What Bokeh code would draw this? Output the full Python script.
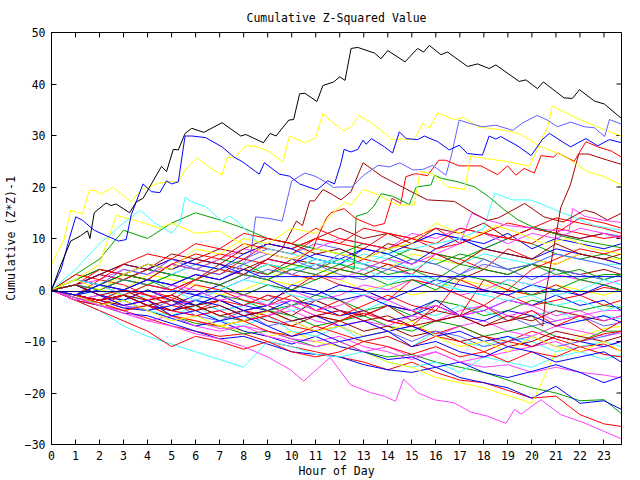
from math import pi
from bokeh.plotting import figure
from bokeh.models import FixedTicker, Range1d
from bokeh.embed import file_html
from bokeh.resources import INLINE

TITLE = "Cumulative Z-Squared Value"
X_LABEL = "Hour of Day"
Y_LABEL = "Cumulative (Z*Z)-1"
X_TICKS = list(range(0, 24))
Y_TICKS = [-30, -20, -10, 0, 10, 20, 30, 40, 50]
X_END = 23.73

# shared hourly sample grid for the background walks
HOURS = list(range(0, 24)) + [23.73]

# ---- prominent walks (own sample hours) ----
black_h = [0, 0.4, 0.8, 1.2, 1.5, 1.6, 1.78, 2.27, 2.48, 2.69, 3.25, 3.53, 3.81, 4.16, 4.58, 4.79, 5.07, 5.28, 5.56, 5.84,
           6.34, 7.1, 7.88, 8.09, 8.82, 9.1, 9.35, 9.88, 10.08, 10.33, 10.55, 11.05, 11.3, 11.75, 12.0, 12.22, 12.47, 12.75,
           13.45, 13.72, 14.0, 14.72, 15.24, 15.49, 15.73, 16.21, 16.49, 17.32, 17.74, 18.22, 18.5, 19.47, 19.75, 20.23,
           20.48, 21.34, 21.69, 21.98, 22.6, 23.02, 23.73]
black_v = [0, 5, 9.5, 10.5, 11.5, 10, 15, 16.9, 16.4, 16.7, 15, 17.1, 17.8, 20.6, 24, 23, 27.3, 27.2, 30.4, 31.4,
           30.6, 32.5, 29.9, 30.2, 28.6, 30.4, 29.9, 33, 33.1, 38.1, 38.2, 36.6, 39.7, 40.4, 41.4, 40.7, 46.9, 47.1,
           46, 44.9, 46.5, 44.3, 46.9, 46.2, 47.5, 45.7, 46.2, 43.4, 43.9, 43, 43.7, 40.5, 40.8, 39.1,
           40.4, 37.3, 37.2, 38.9, 36.7, 36.1, 33.3]

blue_hi_h = [0, 0.4, 0.73, 1.01, 1.3, 1.78, 2.3, 2.8, 3.11, 3.32, 3.81, 4.16, 4.51, 4.79, 5.0, 5.28, 5.56, 5.84, 6.41, 7.1,
             7.6, 7.95, 8.5, 8.65, 8.86, 9.49, 9.91, 10.33, 11.0, 11.12, 11.5, 11.78, 12.05, 12.18, 12.47, 12.75, 12.97,
             13.1, 13.32, 13.86, 14.2, 14.48, 14.77, 15.25, 15.52, 16.08, 16.56, 16.97, 17.32, 17.94, 18.22, 18.5, 18.7,
             19.4, 19.97, 20.43, 20.73, 21.33, 21.61, 22.25, 22.74, 23.23, 23.73]
blue_hi_v = [0, 4, 9.8, 14.2, 13.5, 11.6, 10.5, 9.5, 9.8, 14.6, 20.6, 19.1, 18.9, 21.2, 20.6, 21, 29.9, 29.9, 29.6, 27.8,
             25.8, 24.9, 23, 22.5, 24.7, 22.5, 22.1, 20.6, 19.5, 19.7, 21.2, 20.6, 24.6, 27.3, 26.8, 27.3, 29.1,
             28.3, 29.4, 27.8, 26.6, 30.7, 29.4, 29.2, 29.9, 28.8, 27.2, 28.1, 26.5, 26.2, 29.9, 29.3, 29.8,
             28, 26.1, 29.2, 30.4, 28.6, 27.8, 29.4, 28, 29.2, 28.6]

lblue_hi_h = [0, 1, 2, 3, 4, 5, 6, 7, 7.8, 8.3, 8.5, 9.05, 9.6, 10.0, 10.55, 10.97, 11.4, 11.75, 11.95, 12.5, 13.0, 13.6,
              14.08, 14.5, 15.05, 15.45, 15.87, 16.42, 16.63, 16.97, 17.45, 17.94, 18.5, 19.2, 19.6, 20.22, 20.64, 21.06,
              21.62, 22.18, 22.6, 23.03, 23.23, 23.73]
lblue_hi_v = [0, -1, 1, 0, 2, 1, 3, 2, 4, 7, 14.2, 13.9, 13.4, 21.2, 22.7, 22.1, 21, 19.9, 20, 20, 22.3, 24.2,
              23.9, 24.7, 23.3, 23.4, 24.2, 22.3, 25.8, 33, 32.3, 31.7, 32, 31, 32.4, 33.9, 33, 31.7,
              32.6, 31.7, 31.5, 29.8, 33.1, 32.2]

yellow_hi_h = [0, 0.52, 0.8, 1.29, 1.57, 1.76, 2.06, 2.55, 2.9, 3.32, 3.74, 4.44, 4.93, 5.28, 5.56, 6.06, 6.55, 7.1, 7.32,
               7.6, 8.09, 8.5, 9.07, 9.63, 9.91, 10.55, 11.0, 11.3, 11.63, 12.18, 12.47, 12.8, 13.3, 14.2, 14.6, 15.1,
               15.45, 15.75, 16.07, 16.77, 17.15, 17.75, 18.85, 19.48, 20.3, 21.35, 22.3, 23.0, 23.73]
yellow_hi_v = [5, 9.8, 15.5, 14.8, 19.3, 19.4, 18.6, 19.9, 18.7, 17.1, 19.5, 20.7, 21, 21, 23.3, 25.7, 23.9, 22.3, 25.8,
               25.6, 28, 27.9, 26.9, 24.9, 29.9, 28.6, 29.6, 34.3, 32.8, 30.9, 31.7, 33.9, 32.5, 29.2, 29.3, 29.2,
               32.3, 31.5, 34.4, 33.1, 33.5, 31.7, 31, 30.4, 28, 26, 23, 22, 20.4]

yellow_jump_h = [0, 1, 2, 3, 4, 5, 6, 7, 8, 9, 10, 11, 11.63, 12.2, 12.47, 12.97, 13.6, 14.4, 15.1, 15.35, 15.9, 16.5,
                 17.2, 17.45, 18.1, 18.9, 19.9, 20.65, 20.85, 21.8, 22.8, 23.73]
yellow_jump_v = [0, 2, 0, 3, 5, 4, 8, 7, 10, 9, 12, 11, 14.5, 17, 16.5, 19.5, 18.5, 16.5, 16.5, 23, 22.5, 20,
                 19.5, 26, 25.5, 25, 24, 31.7, 35.7, 33.5, 31.5, 29.9]

yellow_mid_h = [0, 1, 2, 2.7, 3.5, 4.5, 5, 6, 7, 7.5, 8, 9, 10, 11, 12, 13, 14, 15, 16, 16.5, 17.5, 18.5, 19.5, 20.5,
                21.5, 22.5, 23.73]
yellow_mid_v = [0, 2, 5, 14.5, 13.5, 12, 13, 11, 11.5, 10, 9, 7, 6, 8, 7, 6, 8, 9, 13, 12, 10, 12.5, 11, 9,
                10, 8, 7]

red_hi_h = [0, 1, 2, 3, 4, 5, 6, 7, 8, 9, 10, 10.9, 11.05, 11.45, 11.63, 12.18, 12.66, 13.43, 13.86, 14.18, 14.54, 14.75,
            15.15, 15.65, 16.13, 16.41, 16.97, 17.88, 18.57, 18.99, 19.33, 19.68, 20.1, 20.38, 20.9, 21.08, 21.76, 22.25,
            22.74, 23.3, 23.73]
red_hi_v = [0, -1, -2, -1, 1, 0, 2, 4, 3, 6, 5, 8, 10, 14, 15, 15.8, 13.9, 12.4, 12.9, 17.8, 16.8, 22,
            22.6, 22.2, 25.2, 25.2, 24.1, 24.1, 22.4, 24.1, 22.3, 23.6, 22.7, 26.1, 25.8, 26.6, 25, 28.8,
            27.8, 27, 25.8]

dred_hi_h = [0, 1, 2, 3, 4, 5, 6, 7, 8, 9, 9.6, 10.2, 10.45, 10.75, 10.95, 11.3, 11.63, 12.05, 12.47, 12.97, 13.75, 15.1,
             15.65, 16.77, 17.47, 18.15, 18.6, 19.0, 19.7, 20.5, 21.3, 22.2, 22.6, 23.15, 23.73]
dred_hi_v = [0, 1, -1, 0, 2, 1, 3, 2, 4, 6, 8, 13.4, 12.5, 17.3, 17.3, 19.5, 18.7, 17.5, 19.1, 24.7, 22.1, 18.8,
             17.5, 17.2, 15.2, 13.5, 14, 15, 16.8, 14.2, 13.2, 15.5, 15, 13.6, 14.9]

dred_jump_h = [0, 1, 2, 3, 4, 5, 6, 7, 8, 9, 10, 11, 12, 13, 14, 15, 16, 17, 18, 19, 20, 20.45, 20.6, 20.9, 21.2, 21.6,
               21.95, 22.35, 22.75, 23.15, 23.73]
dred_jump_v = [0, -1, -2, -1, -3, -2, -4, -3, -5, -4, -6, -5, -4, -6, -5, -7, -6, -5, -7, -6, -5, -7, 0, 8, 16, 20.4,
               26.4, 26.4, 25.8, 25.2, 24.4]

green_jump_h = [0, 1, 2, 3, 4, 5, 6, 7, 8, 9, 10, 11, 12, 12.6, 12.68, 13.15, 13.43, 13.72, 14.2, 14.9, 15.18, 15.8, 15.95,
                16.22, 16.92, 17.62, 18.18, 18.87, 19.43, 20.0, 20.55, 21.3, 22.2, 23.0, 23.73]
green_jump_v = [0, 1, 0, 2, 1, 3, 2, 1, 3, 2, 4, 3, 5, 4, 14.3, 15, 16.3, 18.7, 18.2, 16.6, 20, 20.4, 22.3,
                21.7, 21, 20, 18.2, 15.5, 13.6, 12.3, 11.6, 10.4, 9.5, 8.8, 8.2]

cyan_left_h = [0, 1, 2, 3, 3.7, 4.3, 5, 5.35, 5.56, 5.84, 6.41, 7.1, 7.39, 7.81, 8.4, 9, 10, 11, 12, 13, 14, 15, 16, 17,
               18, 19, 20, 21, 22, 23, 23.73]
cyan_left_v = [0, 4, 9, 13, 15.5, 13, 11, 13, 18, 17.1, 16.2, 13.4, 14.4, 13.1, 10, 8, 7, 6, 5, 4, 2, 3, 1, 0,
               -1, -2, -1, -3, -2, -4, -3]

cyan_right_h = [0, 1, 2, 3, 4, 5, 6, 7, 8, 9, 10, 11, 12, 13, 14, 15, 16, 17, 18, 18.45, 19.2, 19.9, 20.35, 21.0, 21.8,
                22.6, 23.73]
cyan_right_v = [0, 1, 0, 2, 1, 3, 2, 4, 3, 2, 4, 5, 6, 5, 7, 8, 9, 10, 12, 18.8, 17.5, 17.5, 16.8, 15.5, 14,
                12.5, 11.6]

magenta_hi_h = [0, 1, 2, 3, 4, 5, 6, 7, 8, 9, 10, 11, 12, 13, 14, 15, 16, 17, 17.5, 18.2, 19, 20, 21, 21.55, 21.7, 22.2,
                22.9, 23.73]
magenta_hi_v = [0, 1, 0, 2, 1, 0, 2, 1, 3, 2, 4, 3, 2, 4, 6, 5, 7, 9, 14.9, 13.5, 12.5, 12, 11.5, 11.6, 15.8, 14.3,
                13.6, 13.1]

magenta_lo_h = [0, 1, 2, 3, 4, 5, 6, 7, 8, 9, 9.95, 10.5, 10.9, 11.6, 12.45, 13.27, 13.9, 14.32, 14.66, 15.23, 15.92,
                16.75, 17.45, 18.15, 18.92, 19.27, 19.55, 20.37, 21.2, 22.17, 23.73]
magenta_lo_v = [0, -1.5, -3, -4.5, -6, -7, -8.5, -9.5, -11, -13, -15.5, -17.7, -16, -13.1, -18.4, -19.9, -20.7, -21.6,
                -17.3, -19.9, -21.3, -21.9, -23.7, -24.5, -25.9, -23.2, -24.1, -21.3, -24.2, -25.8, -28.9]

blue_flat_h = [0, 1, 2, 3, 4, 5, 6, 7, 8, 8.7, 23.73]
blue_flat_v = [0, -1, 1, 0, 2, 1, 3, 2, 4, 2.6, 2.6]
navy_flat_h = [0, 23.73]
navy_flat_v = [-0.3, -0.3]

# ---- background walks on the hourly grid ----
red_a = [0, -1.5, -3, -4, -5.5, -7, -8, -9, -8.5, -10, -11, -12, -13, -14, -15.5, -14, -16, -17.5, -18, -19.5, -21, -20.6, -24.2, -26, -26.5]
red_b = [0, 1, -1, -2, 0, -1.5, -3, -2, -4, -5, -3, -5, -6, -4.5, -6, -7, -8.5, -7, -9, -10, -8, -9.5, -11, -10.5, -11.9]
red_c = [0, 2, 1, 3, 2, 5, 4, 3, 6, 5, 3, 2, 4, 6, 5, 3, 7, 6, 4, 8, 6, 5, 7, 6, 5]
red_d = [0, -1, 1, 0, -2, -1, 2, 1, -1, -2, 0, 3, 1, 0, -2, 2, 1, -1, -3, 0, -1, 1, -1, 0.5, 0]
red_e = [0, -1, -2, 0, -1, -3, -4, -2, -3, -1, -2, -4, -5, -3, -1, -3, -4, 2, 0, -1, -3, -2, -1, -3, -2]
red_f = [0, 1, 3, 2, 4, 6, 5, 7, 6, 9, 8, 10, 9, 8, 11, 10, 12, 9, 11, 10, 9, 12, 11, 10, 10.5]
red_g = [0, -1, -2.5, -4, -3, -5, -6, -7, -6, -8, -9, -7, -8.5, -10, -9, -11, -9, -10, -12, -10, -11, -9, -10, -8.5, -8]
red_h = [0, -2, -3, -1, -3, -4, -5, -4, -6, -5, -7, -8, -6, -4, -6, -7, -3, -5, 2, 0, 4, 6, 8, 7, 8]
red_i = [0, -2, -4, -6, -8, -11, -9, -10, -11.5, -10, -12, -13, -12, -10, -11, -12.5, -11, -13, -12, -14, -12, -13, -11, -12.5, -13]
red_j = [0, 1, 4, 3, 2, 5, 7, 6, 9, 8, 7, 10, 9, 12, 11, 10, 8, 9, 11, 10, 12, 14, 13, 12, 11]
red_k = [0, -1, 2, 1, -1, -2, 1, 0, -2, -3, -1, -4, -2, -5, -3, -4, -6, -5, -3, -6, -4, -7, -5, -8, -6]
red_l = [0, 3, 2, 5, 7, 6, 9, 8, 11, 10, 9, 12, 10, 9, 8, 10, 9, 12, 11, 13, 12, 11, 14, 13, 12]

dred_a = [0, 1, 0, 2, 4, 3, 2, 5, 4, 3, 6, 5, 4, 3, 5, 4, 3, 2, 4, 3, 5, 4, 3, 4, 3]
dred_b = [0, -1, 1, -1, -2, -1, -3, -2, -4, -3, -5, -2, -4, -5, -3, -6, -4, -5, -7, -5, -6, -4, -5, -6, -5]
dred_c = [0, 2, 4, 3, 5, 4, 6, 8, 7, 9, 8, 10, 12, 10, 11, 9, 12, 11, 13, 10, 12, 11, 10, 11, 10]
dred_d = [0, -1, -2, -3, -2, -4, -3, -5, -4, -6, -7, -5, -6, -8, -7, -9, -8, -10, -9, -11, -10, -8, -9, -10, -9]
dred_e = [0, 1, 3, 5, 4, 7, 6, 5, 8, 10, 9, 7, 8, 6, 9, 8, 7, 5, 8, 7, 6, 9, 7, 6, 7]

blue_a = [0, -2, -3, -4.5, -5, -6.5, -8, -9.5, -9, -10.5, -12, -12.5, -13, -14.5, -15.5, -16, -15, -17, -18, -19, -21, -18.7, -22, -21.5, -23.2]
blue_b = [0, -1, -2, -3.5, -4, -5.5, -7, -6, -8, -9, -10.5, -9, -11, -12, -13.5, -13, -15, -14, -16, -17, -15.8, -14.5, -16, -18, -16.8]
blue_c = [0, 1, -1, -2, 0, -2, -3, -1, -3, -4, -2, -3, -5, -4, -6, -5, -3, -5, -6, -4, -5, -7, -6, -5, -6.3]
blue_d = [0, 2, 1, 3, 5, 4, 6, 5, 3, 6, 5, 7, 6, 8, 7, 5, 8, 10, 9, 11, 8, 10, 9, 8, 9]
blue_e = [0, -1, 0, 2, 1, 0, -1, 1, 3, 2, 0, -1, 1, 0, -2, 0, 2, 1, 0, -1, 1, 0, -1, 1, 0]
blue_f = [0, -1, -2, -1, -3, -4, -2, -3, -5, -4, -6, -5, -7, -6, -8, -7, -9, -8, -10, -9, -11, -9, -10, -11, -10]
blue_g = [0, 1, 3, 5, 4, 6, 5, 4, 7, 9, 8, 6, 5, 8, 7, 9, 11, 10, 8, 7, 6, 8, 7, 6, 5]
blue_h = [0, -1, -3, -2, -4, -3, -1, -2, -4, -3, 1, 0, -2, -1, -3, -4, -2, -5, -4, -2, -3, -1, -3, -2, -4]
blue_i = [0, 1, -1, -3, -2, -5, -4, -6, -5, -7, -9, -8, -10, -9, -8, -11, -10, -12, -13, -11, -12, -14, -13, -12, -14]

lblue_a = [0, -1, -2, 0, -1, -3, -2, -4, -3, -1, -3, -2, -4, -5, -3, -4, -6, -5, -3, -5, -7, -6, -5, -7, -6.3]
lblue_b = [0, 1, 3, 2, 4, 3, 5, 4, 6, 8, 7, 9, 8, 6, 8, 9, 11, 10, 8, 10, 12, 11, 10, 11, 10.4]
lblue_c = [0, -1, 1, 0, 2, 1, -1, 0, 2, 4, 3, 5, 3, 2, 4, 3, 1, 3, 5, 4, 2, 4, 3, 2, 3]
lblue_d = [0, -2, -1, -3, -4, -2, -5, -6, -4, -7, -6, -8, -7, -9, -8, -10, -8, -9, -11, -10, -9, -11, -10, -9, -8]
lblue_e = [0, 2, 1, 4, 3, 6, 4, 3, 5, 7, 6, 4, 7, 5, 4, 6, 5, 3, 6, 4, 5, 7, 6, 5, 4]

green_a = [0, -1.5, -2.5, -4, -3, -5, -6.5, -7, -8.5, -8, -9.5, -11, -10, -12, -13, -12.5, -14, -15, -16, -17.5, -19, -20, -21.5, -21.3, -24]
green_b = [0, -1, 1, 0, -2, -1, -3, -1, -2, -4, -3, -1, -2, -4, -3, -5, -2, -3, -5, -4, -2, -3, -4, -3, -3.5]
green_c = [0, 1, 0, 2, 4, 3, 2, 4, 3, 5, 4, 6, 5, 4, 6, 8, 7, 6, 8, 10, 9, 7, 6, 7, 6]
green_d = [0, -1, -2, -1, -3, -4, -3, -5, -6, -4, -5, -7, -6, -5, -7, -8, -6, -7, -9, -8, -7, -9, -10, -8, -8]
green_e = [0, 2, 4, 3, 2, 5, 4, 6, 5, 3, 5, 4, 6, 5, 3, 4, 2, 5, 4, 3, 5, 4, 2, 3, 3]
green_f = [0, 3, 6, 11.6, 10, 13, 15, 13.6, 12, 10, 9, 8, 7, 9, 8, 6, 5, 7, 6, 4, 5, 3, 4, 2, 3]
green_g = [0, -1, 1, 3, 2, 0, 2, 1, -1, 1, 0, 2, 4, 3, 1, 2, 0, 3, 2, 1, -1, 0, 2, 1, 0]

cyan_a = [0, -2, -4, -7, -9, -10.5, -12, -13.5, -15, -10, -11, -12.5, -13, -12, -14, -15, -14, -16, -13, -14, -15, -13, -12, -13.5, -12.5]
cyan_b = [0, -1, 0, -2, -1, -3, -2, -4, -3, -2, -4, -3, -5, -4, -2, -4, -5, -3, -4, -6, -5, -4, -6, -5, -5.6]
cyan_c = [0, 1, 3, 2, 1, 3, 5, 4, 3, 5, 4, 6, 5, 7, 6, 4, 6, 5, 7, 6, 5, 7, 6, 5, 5]
cyan_d = [0, -1, -3, -2, -4, -5, -3, -6, -7, -5, -8, -9, -7, -10, -9, -11, -8, -10, -11, -9, -10, -12, -11, -10, -11]
cyan_e = [0, 2, 1, -1, 1, 0, -2, 0, 2, 1, -1, -2, 0, -1, 1, 3, 2, 0, -1, 2, 1, -1, 0, 2, 1]

magenta_a = [0, -1, -2, -3.5, -3, -5, -6, -7.5, -7, -8, -9.5, -10, -9, -11, -12, -13.5, -12, -14, -15, -14.5, -16, -15, -16, -16.5, -17.1]
magenta_b = [0, -1, -2, -1, -3, -4, -3, -5, -6, -5, -4, -6, -7, -6, -8, -7, -9, -7, -6, -8, -9, -7, -8, -9, -8.3]
magenta_c = [0, -1, 1, 0, -1, -3, -2, 0, -1, 1, 0, -2, -1, 1, 0, 2, 1, -1, 0, 2, 1, 3, 2, 1, 2]
magenta_d = [0, -1, -2, -3, -2, -4, -5, -4, -6, -5, -3, -5, -4, -6, -7, -5, -6, -4, -3, -5, -4, -6, -5, -4, -4]
magenta_e = [0, -1, -3, -4, -6, -5, -7, -8, -7, -9, -10, -11, -10, -12, -11, -13, -12, -14, -13, -12, -11, -10, -12, -11, -10]
magenta_f = [0, 1, 2, 4, 3, 5, 4, 6, 8, 7, 6, 8, 10, 9, 8, 11, 10, 12, 11, 9, 11, 10, 12, 11, 10]
magenta_g = [0, -2, -1, -3, -2, 1, 0, -2, -1, -3, -2, -4, -3, -1, -2, -4, -3, -5, -4, -2, -3, -5, -4, -6, -5]

yellow_a = [0, -1, -2.5, -4, -3, -5, -6, -7, -8, -9, -8, -10, -11, -12, -14, -15, -17, -18, -19, -20.5, -22, -12, -9, -7.5, -7]
yellow_b = [0, 2, 1, 0, 3, 2, 1, -1, 0, 2, 1, 3, 2, 0, 1, -1, 0, 2, 1, 0, -1, 1, 0, -1, 0]
yellow_c = [0, 1, 0, -1, 1, 3, 2, 4, 3, 2, 5, 4, 3, 2, 4, 7, 6, 5, 8, 7, 6, 5, 7, 6, 6]
yellow_d = [0, -1, -3, -2, -4, -6, -5, -7, -6, -4, -6, -8, -7, -9, -8, -6, -9, -11, -10, -12, -9, -11, -12, -10, -12]

RED, DRED, GREEN, BLUE, LBLUE = "#ff0000", "#a00000", "#00a000", "#0000ff", "#6060ff"
CYAN, MAGENTA, YELLOW, BLACK, NAVY = "#40ffff", "#ff40ff", "#ffff00", "#000000", "#000090"

background = [
    (red_a, RED), (green_a, GREEN), (blue_a, BLUE), (magenta_a, MAGENTA), (cyan_a, CYAN), (yellow_a, YELLOW),
    (dred_a, DRED), (lblue_a, LBLUE), (red_b, RED), (green_b, GREEN), (blue_b, BLUE), (magenta_b, MAGENTA),
    (cyan_b, CYAN), (yellow_b, YELLOW), (dred_b, DRED), (lblue_b, LBLUE), (red_c, RED), (green_c, GREEN),
    (blue_c, BLUE), (magenta_c, MAGENTA), (cyan_c, CYAN), (yellow_c, YELLOW), (dred_c, DRED), (lblue_c, LBLUE),
    (red_d, RED), (green_d, GREEN), (blue_d, BLUE), (magenta_d, MAGENTA), (cyan_d, CYAN), (dred_d, DRED),
    (lblue_d, LBLUE), (red_e, RED), (green_e, GREEN), (blue_e, BLUE), (magenta_e, MAGENTA), (red_f, RED),
    (green_f, GREEN), (blue_f, BLUE), (magenta_f, MAGENTA), (red_g, RED), (blue_g, BLUE), (red_h, RED),
    (red_i, RED), (red_j, RED), (red_k, RED), (dred_e, DRED), (blue_h, BLUE), (lblue_e, LBLUE), (green_g, GREEN),
    (cyan_e, CYAN), (magenta_g, MAGENTA), (yellow_d, YELLOW), (red_l, RED), (blue_i, BLUE),
]
prominent = [
    (magenta_lo_h, magenta_lo_v, MAGENTA), (cyan_left_h, cyan_left_v, CYAN), (cyan_right_h, cyan_right_v, CYAN),
    (magenta_hi_h, magenta_hi_v, MAGENTA), (yellow_mid_h, yellow_mid_v, YELLOW), (green_jump_h, green_jump_v, GREEN),
    (dred_jump_h, dred_jump_v, DRED), (dred_hi_h, dred_hi_v, DRED), (red_hi_h, red_hi_v, RED),
    (yellow_jump_h, yellow_jump_v, YELLOW), (yellow_hi_h, yellow_hi_v, YELLOW), (lblue_hi_h, lblue_hi_v, LBLUE),
    (blue_hi_h, blue_hi_v, BLUE), (black_h, black_v, BLACK),
    (blue_flat_h, blue_flat_v, BLUE), (navy_flat_h, navy_flat_v, NAVY),
]

FONT = "DejaVu Sans Mono"
FS = "11.5px"

p = figure(width=640, height=480, output_backend="svg", toolbar_location=None,
           x_range=Range1d(0, X_END), y_range=Range1d(-30, 50),
           min_border_left=51, min_border_right=19, min_border_top=32, min_border_bottom=35,
           background_fill_color="white", border_fill_color="white")

p.title.text = TITLE
p.title.align = "center"
p.title.text_font = FONT
p.title.text_font_size = FS
p.title.text_font_style = "normal"
p.title.text_color = "black"
p.title.text_line_height = 1.0
p.title.standoff = 15

p.grid.grid_line_color = None
p.outline_line_color = "black"
p.outline_line_width = 1

for ax, ticks in ((p.xaxis[0], X_TICKS), (p.yaxis[0], Y_TICKS)):
    ax.ticker = FixedTicker(ticks=ticks)
    ax.major_tick_in = 5
    ax.major_tick_out = 0
    ax.minor_tick_line_color = None
    ax.axis_line_color = "black"
    ax.major_tick_line_color = "black"
    ax.major_label_text_font = FONT
    ax.major_label_text_font_size = FS
    ax.major_label_text_color = "black"
    ax.major_label_text_line_height = 1.0
    ax.axis_label_text_font = FONT
    ax.axis_label_text_font_size = FS
    ax.axis_label_text_font_style = "normal"
    ax.axis_label_text_color = "black"
    ax.axis_label_text_line_height = 1.0

p.xaxis.axis_label = X_LABEL
p.yaxis.axis_label = Y_LABEL
p.xaxis.major_label_standoff = 6
p.xaxis.axis_label_standoff = 1
p.yaxis.major_label_standoff = 6
p.yaxis.axis_label_standoff = 4

# mirrored inward ticks on the top and right frame edges (half of each dash is clipped by the frame)
p.scatter(X_TICKS, [Y_TICKS[-1]] * len(X_TICKS), marker="dash", angle=pi / 2, size=10,
          line_color="black", line_width=1)
p.scatter([X_END] * len(Y_TICKS), Y_TICKS, marker="dash", size=10, line_color="black", line_width=1)

for vals, col in background:
    p.line(HOURS, vals, line_color=col, line_width=1)
for hs, vs, col in prominent:
    p.line(hs, vs, line_color=col, line_width=1)

open("out.html", "w").write(file_html(p, INLINE))
